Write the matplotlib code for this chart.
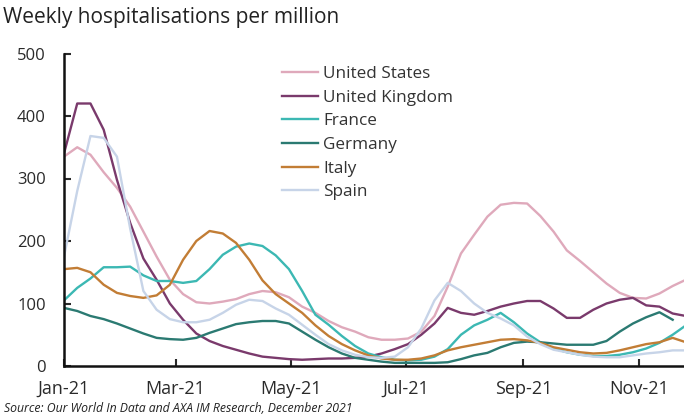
import matplotlib
matplotlib.use("Agg")
import matplotlib.pyplot as plt
import numpy as np
import pandas as pd

plt.rcParams['font.family'] = ['Open Sans', 'DejaVu Sans']

start_date = "2021-01-01"
n_weeks = 48
weeks = pd.date_range(start_date, periods=n_weeks, freq="7D")

series_names = ["United States", "United Kingdom", "France", "Germany", "Italy", "Spain"]

united_states = [335, 350, 338, 310, 285, 255, 215, 175, 138, 115, 102, 100, 103, 107, 115, 120,
                 118, 110, 95, 85, 72, 62, 55, 46, 42, 42, 44, 55, 80, 127, 180, 210,
                 239, 258, 261, 260, 240, 215, 185, 168, 150, 132, 117, 109, 108, 116, 128, 138]
united_kingdom = [340, 420, 420, 378, 298, 229, 172, 138, 100, 74, 52, 40, 32, 26, 20, 15,
                  13, 11, 10, 11, 12, 12, 13, 15, 20, 27, 35, 50, 68, 93, 85, 82,
                  88, 95, 100, 104, 104, 92, 77, 77, 90, 100, 106, 109, 97, 95, 84, 80]
france = [105, 125, 140, 158, 158, 159, 145, 136, 136, 133, 136, 155, 178, 191, 196, 192,
          177, 155, 120, 82, 66, 48, 32, 20, 14, 10, 9, 10, 15, 27, 50, 65,
          74, 85, 70, 52, 38, 28, 22, 18, 16, 16, 18, 22, 28, 37, 50, 65]
germany = [93, 88, 80, 75, 68, 60, 52, 45, 43, 42, 45, 53, 60, 67, 70, 72,
           72, 68, 55, 42, 30, 20, 13, 10, 7, 5, 5, 5, 5, 6, 11, 17,
           21, 30, 37, 39, 38, 36, 34, 34, 34, 40, 55, 68, 78, 86, 74, np.nan]
italy = [155, 157, 150, 130, 117, 112, 109, 113, 130, 170, 200, 216, 212, 197, 170, 137,
         115, 100, 85, 65, 48, 35, 25, 17, 12, 10, 10, 12, 17, 25, 30, 34,
         38, 42, 43, 41, 37, 30, 26, 22, 20, 21, 25, 30, 35, 38, 45, 38]
spain = [175, 280, 368, 365, 335, 220, 120, 90, 75, 70, 70, 74, 85, 98, 106, 104,
         92, 82, 66, 50, 35, 25, 18, 14, 13, 15, 30, 60, 105, 133, 120, 100,
         85, 76, 65, 47, 35, 26, 22, 18, 15, 14, 14, 17, 20, 22, 25, 25]

colors = ["#dfa9bb", "#7a3a6c", "#3cb8b3", "#2b7a72", "#c27d35", "#c7d4e8"]
all_series = [united_states, united_kingdom, france, germany, italy, spain]

y_ticks = [0, 100, 200, 300, 400, 500]
x_tick_dates = ["2021-01-01", "2021-03-01", "2021-05-01", "2021-07-01", "2021-09-01", "2021-11-01"]
x_tick_labels = ["Jan-21", "Mar-21", "May-21", "Jul-21", "Sep-21", "Nov-21"]

fig = plt.figure(figsize=(6.84, 4.16), dpi=100)
ax = fig.add_axes([64/684, 1 - 366/416, 1 - 64/684, (366 - 53.5)/416])

for name, vals, c in zip(series_names, all_series, colors):
    ax.plot(weeks, vals, color=c, lw=1.7, label=name, solid_joinstyle="round")

ax.set_ylim(0, 500)
ax.set_xlim(pd.Timestamp("2021-01-01"), pd.Timestamp("2021-01-01") + pd.Timedelta(days=328))
ax.set_yticks(y_ticks)
ax.set_xticks(pd.to_datetime(x_tick_dates))
ax.set_xticklabels(x_tick_labels)

for s in ["top", "right"]:
    ax.spines[s].set_visible(False)
for s in ["left", "bottom"]:
    ax.spines[s].set_linewidth(1.8)
    ax.spines[s].set_color("#111111")

ax.tick_params(axis="both", direction="in", length=5, width=1.5, colors="#2a2a2a")
ax.tick_params(axis="y", pad=13, labelsize=12)
ax.tick_params(axis="x", pad=10, labelsize=13)

leg = ax.legend(loc="upper left", bbox_to_anchor=((282 - 64)/620, 1 - (66 - 53.5)/312.5),
                frameon=False, fontsize=12.3, handlelength=2.1, handletextpad=0.3,
                labelspacing=0.45, borderaxespad=0, borderpad=0)
for t in leg.get_texts():
    t.set_color("#333333")

fig.text(3/684, 1 - 18/416, "Weekly hospitalisations per million", fontsize=15,
         ha="left", va="center", color="#222222")
fig.text(4/684, 1 - 408/416, "Source: Our World In Data and AXA IM Research, December 2021",
         fontsize=8.8, style="italic", ha="left", va="center", color="#222222")

fig.savefig("out.png", dpi=100)
